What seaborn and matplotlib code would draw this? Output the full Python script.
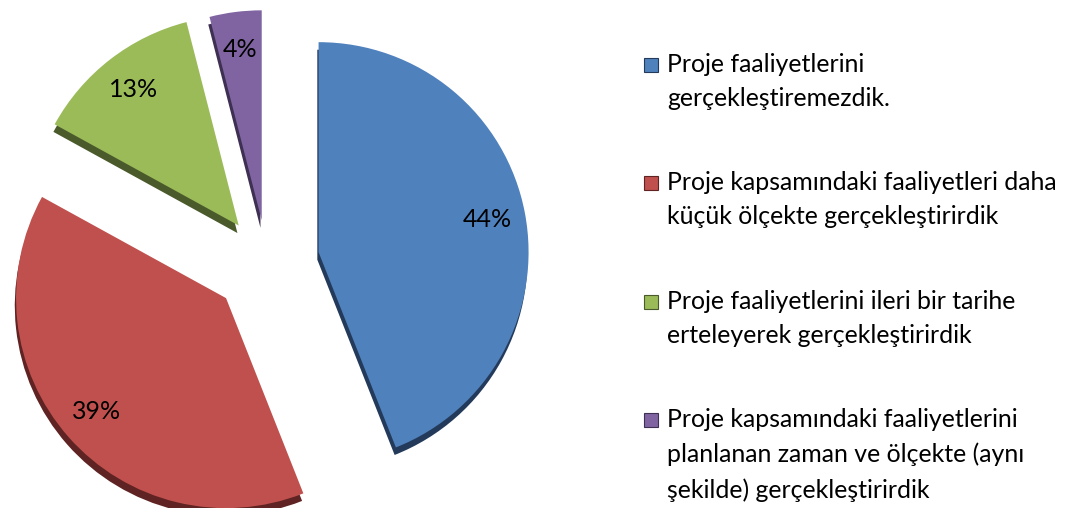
import matplotlib
matplotlib.use("Agg")
import matplotlib.pyplot as plt
from matplotlib.patches import Rectangle
import seaborn as sns

# ---- data ----
categories = [
    "Proje faaliyetlerini\ngerçekleştiremezdik.",
    "Proje kapsamındaki faaliyetleri daha\nküçük ölçekte gerçekleştirirdik",
    "Proje faaliyetlerini ileri bir tarihe\nerteleyerek gerçekleştirirdik",
    "Proje kapsamındaki faaliyetlerini\nplanlanan zaman ve ölçekte (aynı\nşekilde) gerçekleştirirdik",
]
values = [44, 39, 13, 4]

# ---- style ----
sns.set_theme(style="white")
plt.rcParams["font.family"] = ["Lato", "DejaVu Sans"]
colors = ["#4F81BD", "#C0504D", "#9BBB59", "#8064A2"]
dark = ["#233A5A", "#5E2322", "#4A5A2B", "#3E3052"]
explode = [0.25, 0.26, 0.22, 0.20]

W, H = 1068, 508
fig = plt.figure(figsize=(W / 100, H / 100), dpi=100)
fig.patch.set_facecolor("white")

# pie axes: pixels [0,560] x [0,508]; 210 px per unit, centre at (267, 246 from bottom)
s = 210.0
ax = fig.add_axes([0, 0, 560 / W, 1])
cx, cy = 267, 246
ax.axis("off")

# depth (shadow) layer
ax.pie(values, explode=explode, startangle=90, counterclock=False,
       colors=dark, center=(-0.006, -0.036), radius=1.0,
       wedgeprops=dict(linewidth=0))
# top layer
wedges, texts, autotexts = ax.pie(
    values, explode=explode, startangle=90, counterclock=False,
    colors=colors, radius=1.0, autopct="%1.0f%%", pctdistance=0.82,
    wedgeprops=dict(linewidth=0),
    textprops=dict(fontsize=18, color="black"))
ax.set_aspect("auto")
ax.set_xlim(-cx / s, (560 - cx) / s)
ax.set_ylim(-cy / s, (H - cy) / s)

# ---- legend (manual, marker aligned to first line) ----
tops = [65, 183, 302, 420]  # first-line centres in pixels from top
for lab, col, dk, yc in zip(categories, colors, dark, tops):
    fig.add_artist(Rectangle((644 / W, 1 - (yc + 7) / H), 14 / W, 14 / H,
                             transform=fig.transFigure, facecolor=col,
                             edgecolor=dk, linewidth=0.8))
    fig.text(667 / W, 1 - (yc - 12) / H, lab, fontsize=17.9, va="top", ha="left",
             linespacing=1.6, color="black")

fig.savefig("out.png", dpi=100, facecolor="white")
